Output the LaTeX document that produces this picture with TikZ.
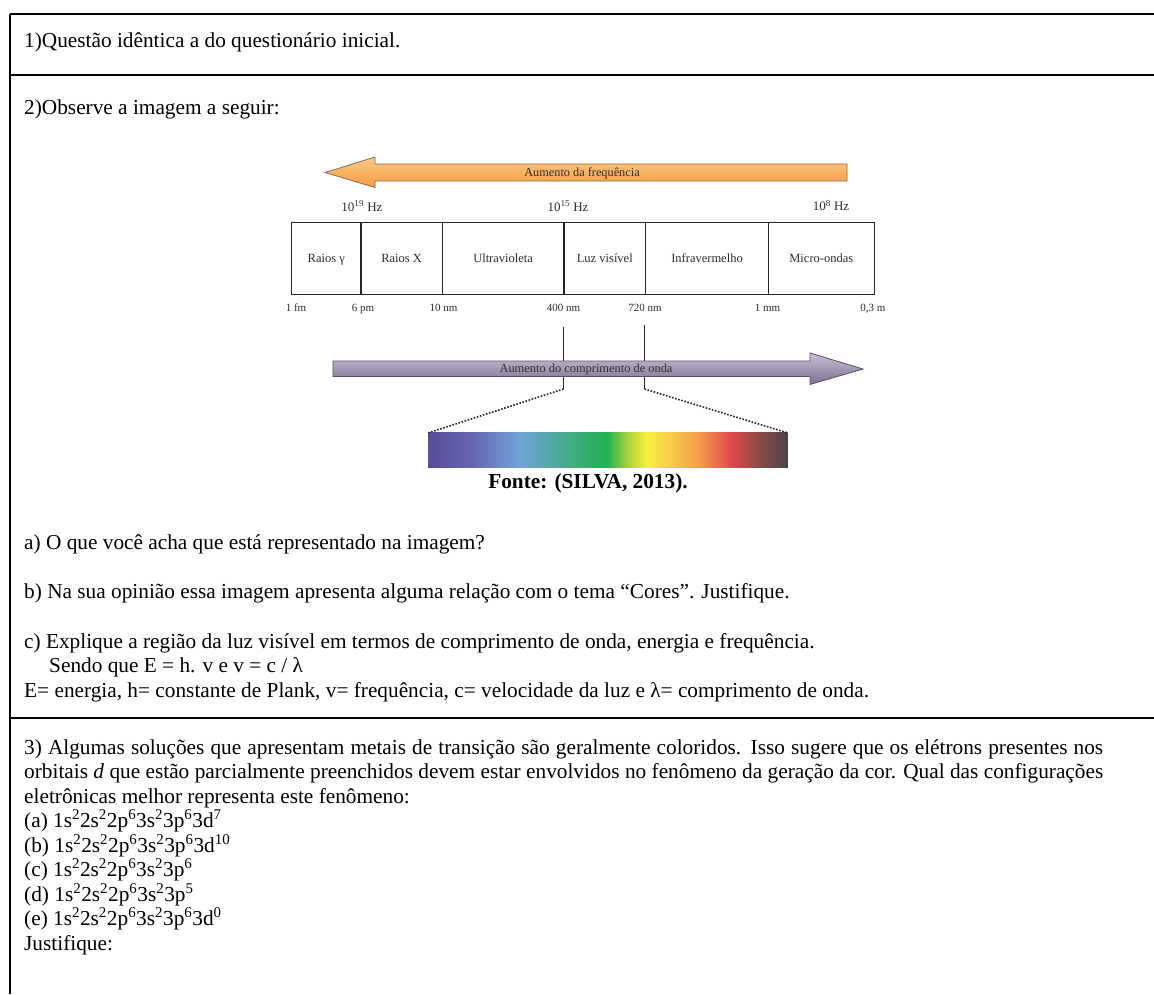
\documentclass[tikz,border=0pt]{standalone}
\usepackage{fontspec}
\setmainfont{Liberation Serif}
\definecolor{sp1}{HTML}{5A4C9A}
\definecolor{sp2}{HTML}{6563B0}
\definecolor{sp3}{HTML}{6FA3D8}
\definecolor{sp4}{HTML}{4EAA98}
\definecolor{sp5}{HTML}{20B14E}
\definecolor{sp6}{HTML}{A8D03C}
\definecolor{sp7}{HTML}{F6F03A}
\definecolor{sp8}{HTML}{F9C64A}
\definecolor{sp9}{HTML}{F39B4B}
\definecolor{sp10}{HTML}{E24A4A}
\definecolor{sp11}{HTML}{8F4B46}
\definecolor{sp12}{HTML}{4A4549}
\definecolor{orTop}{HTML}{FCCB8C}
\definecolor{orBot}{HTML}{F59A3A}
\definecolor{orEdge}{HTML}{8A6A50}
\definecolor{puTop}{HTML}{C9C1D8}
\definecolor{puMid}{HTML}{E9E5F0}
\definecolor{puBot}{HTML}{7A6F90}
\definecolor{puEdge}{HTML}{5A5068}
\definecolor{figtxt}{HTML}{2E2E2E}
\begin{document}
\begin{tikzpicture}[x=1pt,y=-1pt,
  txt/.style={anchor=base west, inner sep=0pt, font=\fontsize{21.3}{24}\selectfont},
  frame/.style={line width=2pt, black},
  boxlbl/.style={anchor=base, inner sep=0pt, font=\fontsize{12.5}{14}\selectfont, text=figtxt},
  wlbl/.style={anchor=base, inner sep=0pt, font=\fontsize{11}{13}\selectfont, text=figtxt},
  flbl/.style={anchor=base, inner sep=0pt, font=\fontsize{13}{15}\selectfont, text=figtxt},
  cell/.style={line width=1.5pt, black!85},
  tick/.style={line width=1.4pt, black!85},
  dots/.style={line width=1.6pt, black!85, dash pattern=on 1.6pt off 1.6pt}]
\useasboundingbox (0,0) rectangle (1154,994);
\fill[white] (0,0) rectangle (1154,994);

% table frame
\coordinate (tl) at (10,14);
\coordinate (tr) at (1154,14);
\coordinate (r1l) at (10,75);
\coordinate (r1r) at (1154,75);
\coordinate (r2l) at (10,718);
\coordinate (r2r) at (1154,718);
\coordinate (bl) at (10,994);
\draw[frame] (tl) -- (tr);
\draw[frame] (r1l) -- (r1r);
\draw[frame] (r2l) -- (r2r);
\draw[frame] (tl) -- (bl);

% texts
\node[txt] (q1) at (24,47) {1)Questão idêntica a do questionário inicial.};
\node[txt] (q2) at (24,114) {2)Observe a imagem a seguir:};

% frequency arrow
\draw[line width=0.8pt, draw=orEdge, top color=orTop, bottom color=orBot]
  (847,164) -- (375,164) -- (375,157) -- (325,172.5) -- (375,187.5) -- (375,181) -- (847,181) -- cycle;
\node[anchor=base, inner sep=0pt, font=\fontsize{12.3}{14}\selectfont, text=figtxt] (fa) at (582,176.5) {Aumento da frequência};

% frequencies
\node[flbl] (f1) at (362,211) {10\textsuperscript{19} Hz};
\node[flbl] (f2) at (568,211) {10\textsuperscript{15} Hz};
\node[flbl] (f3) at (831,210.5) {10\textsuperscript{8} Hz};

% cells
\draw[cell] (291.7,222.7) rectangle (874.3,294.7);
\foreach \xx in {361,442.3,564,645.7,768.3}
  \draw[cell] (\xx,222.7) -- (\xx,294.7);
\node[boxlbl] (c1) at (326.3,262.5) {Raios γ};
\node[boxlbl] (c2) at (401.6,262.5) {Raios X};
\node[boxlbl] (c3) at (503.1,262.5) {Ultravioleta};
\node[boxlbl] (c4) at (604.8,262.5) {Luz visível};
\node[boxlbl] (c5) at (707,262.5) {Infravermelho};
\node[boxlbl] (c6) at (821.3,262.5) {Micro-ondas};

% wavelengths
\node[wlbl] (w1) at (296,311) {1 fm};
\node[wlbl] (w2) at (363,311) {6 pm};
\node[wlbl] (w3) at (443.5,311) {10 nm};
\node[wlbl] (w4) at (563.5,311) {400 nm};
\node[wlbl] (w5) at (645,311) {720 nm};
\node[wlbl] (w6) at (767.5,311) {1 mm};
\node[wlbl] (w7) at (873,311) {0,3 m};

% markers
\coordinate (m1t) at (563.5,327);
\coordinate (m1b) at (563.5,389);
\coordinate (m2t) at (644.5,325);
\coordinate (m2b) at (644.5,389);
\draw[tick] (m1t) -- (m1b);
\draw[tick] (m2t) -- (m2b);

% wavelength arrow
\draw[line width=0.8pt, draw=puEdge, top color=puTop, middle color=puMid, bottom color=puBot]
  (333,361) -- (810,361) -- (810,353) -- (863,369) -- (810,384.5) -- (810,376.5) -- (333,376.5) -- cycle;
\node[anchor=base, inner sep=0pt, font=\fontsize{12.4}{14}\selectfont, text=figtxt] (wa) at (586,372.5) {Aumento do comprimento de onda};

% spectrum bar
\coordinate (sl) at (428.5,432.8);
\coordinate (sr) at (787.3,432.8);
\foreach \xa/\xb/\ca/\cb in {428.5/470/sp1/sp2, 470/520/sp2/sp3, 520/557/sp3/sp4, 557/607/sp4/sp5, 607/627/sp5/sp6, 627/647/sp6/sp7, 647/673/sp7/sp8, 673/700/sp8/sp9, 700/730/sp9/sp10, 730/757/sp10/sp11, 757/787.3/sp11/sp12}
  \fill[left color=\ca, right color=\cb] (\xa-0.3,432.8) rectangle (\xb+0.3,467.8);
\draw[dots] (m1b) -- (sl);
\draw[dots] (m2b) -- (sr);

\node[anchor=base, inner sep=0pt, font=\fontsize{21.3}{24}\selectfont\bfseries] (src) at (588,488) {Fonte: (SILVA, 2013).};

\node[txt] (qa) at (24,549) {a) O que você acha que está representado na imagem?};
\node[txt] (qb) at (24,598.5) {b) Na sua opinião essa imagem apresenta alguma relação com o tema “Cores”. Justifique.};
\node[txt] (qc) at (24,648) {c) Explique a região da luz visível em termos de comprimento de onda, energia e frequência.};
\node[txt] (qc2) at (49,672.5) {Sendo que E = h. v e v = c / λ};
\node[txt] (qc3) at (24,697) {E= energia, h= constante de Plank, v= frequência, c= velocidade da luz e λ= comprimento de onda.};

\node[txt] (q3a) at (24,754) {\makebox[1079pt][s]{3) Algumas soluções que apresentam metais de transição são geralmente coloridos. Isso sugere que os elétrons presentes nos}};
\node[txt] (q3b) at (24,778.5) {\makebox[1079pt][s]{orbitais \textit{d} que estão parcialmente preenchidos devem estar envolvidos no fenômeno da geração da cor. Qual das configurações}};
\node[txt] (q3c) at (24,803) {eletrônicas melhor representa este fenômeno:};
\node[txt] (oa) at (24,827.5) {(a) 1s\textsuperscript{2}2s\textsuperscript{2}2p\textsuperscript{6}3s\textsuperscript{2}3p\textsuperscript{6}3d\textsuperscript{7}};
\node[txt] (ob) at (24,852) {(b) 1s\textsuperscript{2}2s\textsuperscript{2}2p\textsuperscript{6}3s\textsuperscript{2}3p\textsuperscript{6}3d\textsuperscript{10}};
\node[txt] (oc) at (24,876.5) {(c) 1s\textsuperscript{2}2s\textsuperscript{2}2p\textsuperscript{6}3s\textsuperscript{2}3p\textsuperscript{6}};
\node[txt] (od) at (24,901) {(d) 1s\textsuperscript{2}2s\textsuperscript{2}2p\textsuperscript{6}3s\textsuperscript{2}3p\textsuperscript{5}};
\node[txt] (oe) at (24,925.5) {(e) 1s\textsuperscript{2}2s\textsuperscript{2}2p\textsuperscript{6}3s\textsuperscript{2}3p\textsuperscript{6}3d\textsuperscript{0}};
\node[txt] (oj) at (24,950) {Justifique:};
\end{tikzpicture}
\end{document}
